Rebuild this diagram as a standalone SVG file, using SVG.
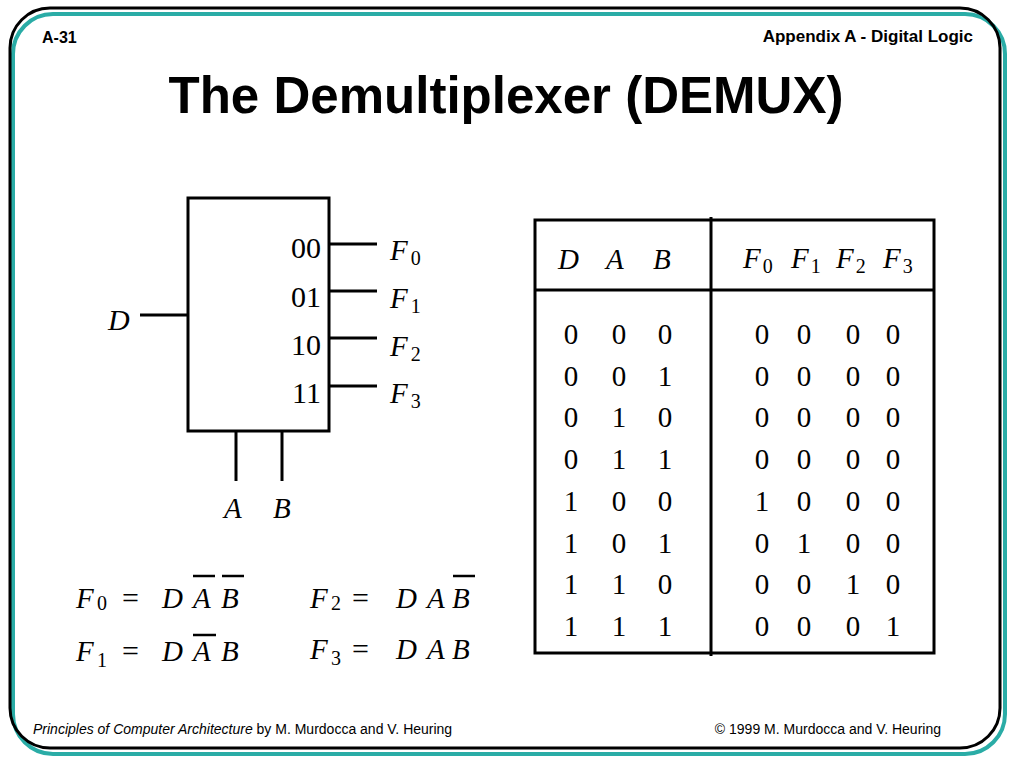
<svg xmlns="http://www.w3.org/2000/svg" width="1024" height="768" viewBox="0 0 1024 768">
<style>
.hdr{font-family:"Liberation Sans",Arial,sans-serif;font-weight:bold;fill:#000}
.ft{font-family:"Liberation Sans",Arial,sans-serif;font-size:14px;fill:#000}
.it{font-family:"Liberation Serif","Times New Roman",serif;font-style:italic;fill:#000}
.rm{font-family:"Liberation Serif","Times New Roman",serif;fill:#000}
.w{stroke:#000;stroke-width:3;fill:none}
.bar{stroke:#000;stroke-width:2.5}
</style>
<rect width="1024" height="768" fill="#fff"/>
<g id="frame">
<rect x="13" y="14" width="992" height="740" rx="40" fill="none" stroke="#2aaca6" stroke-width="4"/>
<rect x="10" y="8" width="990" height="740" rx="40" fill="none" stroke="#000" stroke-width="3"/>
</g>
<text class="hdr" x="42" y="43" font-size="16">A-31</text>
<text class="hdr" x="973" y="42" font-size="17" text-anchor="end">Appendix A - Digital Logic</text>
<text class="hdr" x="506" y="113" font-size="52" text-anchor="middle" textLength="675" lengthAdjust="spacingAndGlyphs">The Demultiplexer (DEMUX)</text>

<g id="demux">
<rect x="188" y="198" width="141" height="233" class="w"/>
<g class="rm" font-size="30" text-anchor="end">
<text x="321" y="258">00</text>
<text x="321" y="307">01</text>
<text x="321" y="355">10</text>
<text x="321" y="403">11</text>
</g>
</g>
<g id="connectors">
<line x1="140" y1="315" x2="188" y2="315" class="w"/>
<line x1="329" y1="244" x2="377" y2="244" class="w"/>
<line x1="329" y1="291" x2="377" y2="291" class="w"/>
<line x1="329" y1="338" x2="377" y2="338" class="w"/>
<line x1="329" y1="386" x2="377" y2="386" class="w"/>
<line x1="236" y1="431" x2="236" y2="481" class="w"/>
<line x1="282" y1="431" x2="282" y2="481" class="w"/>
</g>
<g id="port-labels">
<text class="it" x="108" y="330" font-size="30">D</text>
<text class="it" x="224" y="518" font-size="29">A</text>
<text class="it" x="273" y="518" font-size="29">B</text>
<text class="it" x="390" y="260" font-size="29">F<tspan class="rm" font-style="normal" font-size="20" dx="3" dy="5">0</tspan></text>
<text class="it" x="390" y="308" font-size="29">F<tspan class="rm" font-style="normal" font-size="20" dx="3" dy="5">1</tspan></text>
<text class="it" x="390" y="356" font-size="29">F<tspan class="rm" font-style="normal" font-size="20" dx="3" dy="5">2</tspan></text>
<text class="it" x="390" y="403" font-size="29">F<tspan class="rm" font-style="normal" font-size="20" dx="3" dy="5">3</tspan></text>
</g>

<g id="truth-table">
<rect x="535" y="220" width="399" height="433" class="w"/>
<line x1="535" y1="290" x2="934" y2="290" class="w"/>
<line x1="711" y1="217" x2="711" y2="656" class="w"/>
<g class="it" font-size="29">
<text x="558" y="269">D</text>
<text x="606" y="269">A</text>
<text x="653" y="269">B</text>
<text x="743" y="268">F<tspan class="rm" font-style="normal" font-size="20" dx="2" dy="5">0</tspan></text>
<text x="791" y="268">F<tspan class="rm" font-style="normal" font-size="20" dx="2" dy="5">1</tspan></text>
<text x="836" y="268">F<tspan class="rm" font-style="normal" font-size="20" dx="2" dy="5">2</tspan></text>
<text x="883" y="268">F<tspan class="rm" font-style="normal" font-size="20" dx="2" dy="5">3</tspan></text>
</g>
<g class="rm" font-size="29" text-anchor="middle">
<text y="344"><tspan x="571">0</tspan><tspan x="619">0</tspan><tspan x="665">0</tspan><tspan x="762">0</tspan><tspan x="804">0</tspan><tspan x="853">0</tspan><tspan x="893">0</tspan></text>
<text y="386"><tspan x="571">0</tspan><tspan x="619">0</tspan><tspan x="665">1</tspan><tspan x="762">0</tspan><tspan x="804">0</tspan><tspan x="853">0</tspan><tspan x="893">0</tspan></text>
<text y="427"><tspan x="571">0</tspan><tspan x="619">1</tspan><tspan x="665">0</tspan><tspan x="762">0</tspan><tspan x="804">0</tspan><tspan x="853">0</tspan><tspan x="893">0</tspan></text>
<text y="469"><tspan x="571">0</tspan><tspan x="619">1</tspan><tspan x="665">1</tspan><tspan x="762">0</tspan><tspan x="804">0</tspan><tspan x="853">0</tspan><tspan x="893">0</tspan></text>
<text y="511"><tspan x="571">1</tspan><tspan x="619">0</tspan><tspan x="665">0</tspan><tspan x="762">1</tspan><tspan x="804">0</tspan><tspan x="853">0</tspan><tspan x="893">0</tspan></text>
<text y="553"><tspan x="571">1</tspan><tspan x="619">0</tspan><tspan x="665">1</tspan><tspan x="762">0</tspan><tspan x="804">1</tspan><tspan x="853">0</tspan><tspan x="893">0</tspan></text>
<text y="594"><tspan x="571">1</tspan><tspan x="619">1</tspan><tspan x="665">0</tspan><tspan x="762">0</tspan><tspan x="804">0</tspan><tspan x="853">1</tspan><tspan x="893">0</tspan></text>
<text y="636"><tspan x="571">1</tspan><tspan x="619">1</tspan><tspan x="665">1</tspan><tspan x="762">0</tspan><tspan x="804">0</tspan><tspan x="853">0</tspan><tspan x="893">1</tspan></text>
</g>
</g>

<g id="equations" font-size="29">
<text class="it" x="76" y="608">F</text><text class="rm" x="97" y="610" font-size="20">0</text>
<text class="rm" x="122" y="608" font-size="30">=</text>
<text class="it" x="162" y="608">D</text><text class="it" x="193" y="608">A</text><text class="it" x="221" y="608">B</text>
<line x1="193" y1="576" x2="215" y2="576" class="bar"/><line x1="222" y1="576" x2="244" y2="576" class="bar"/>

<text class="it" x="76" y="661">F</text><text class="rm" x="97" y="667" font-size="20">1</text>
<text class="rm" x="122" y="661" font-size="30">=</text>
<text class="it" x="162" y="661">D</text><text class="it" x="193" y="661">A</text><text class="it" x="221" y="661">B</text>
<line x1="193" y1="635" x2="216" y2="635" class="bar"/>

<text class="it" x="310" y="608">F</text><text class="rm" x="331" y="610" font-size="20">2</text>
<text class="rm" x="352" y="608" font-size="30">=</text>
<text class="it" x="396" y="608">D</text><text class="it" x="427" y="608">A</text><text class="it" x="452" y="608">B</text>
<line x1="453" y1="576" x2="475" y2="576" class="bar"/>

<text class="it" x="310" y="659">F</text><text class="rm" x="331" y="665" font-size="20">3</text>
<text class="rm" x="352" y="659" font-size="30">=</text>
<text class="it" x="396" y="659">D</text><text class="it" x="427" y="659">A</text><text class="it" x="452" y="659">B</text>
</g>

<text class="ft" x="33" y="734"><tspan font-style="italic">Principles of Computer Architecture</tspan> by M. Murdocca and V. Heuring</text>
<text class="ft" x="941" y="734" text-anchor="end">© 1999 M. Murdocca and V. Heuring</text>
</svg>
